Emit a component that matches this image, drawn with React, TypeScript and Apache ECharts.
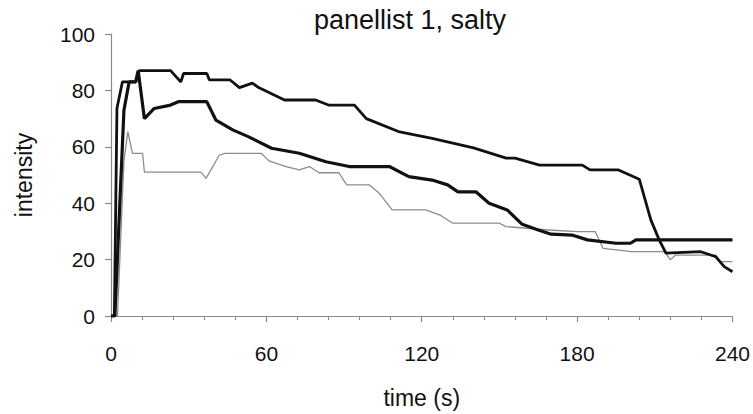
import React, { useEffect, useRef } from "react";
import * as echarts from "echarts";

const titleText = "panellist 1, salty";
const xName = "time (s)";
const yName = "intensity";

// Series A (upper thick line)
const tA = [0, 1.3, 2.3, 4.4, 9.6, 10.9, 23, 27, 28, 37, 38, 46, 49.6, 54.6, 57, 67, 79, 84, 94, 98.6, 111, 124, 140, 152.6, 156, 165.5, 170.6, 182, 185, 196, 204, 208.5, 211.7, 214.3, 227.8, 233.6, 236.8, 240];
const vA = [0, 0, 73.7, 83, 83, 87, 87, 83, 86, 86, 83.7, 83.7, 81, 82.6, 81, 76.6, 76.6, 74.8, 74.8, 70, 65.4, 63, 59.6, 56, 56, 53.5, 53.5, 53.5, 51.8, 51.8, 48.5, 34, 27, 22.3, 22.8, 21, 17.5, 15.7];

// Series B (middle thick line)
const tB = [0, 1.5, 5, 7, 9.5, 10.5, 12.9, 16.7, 23, 26, 37, 40.5, 47, 53, 62, 72.7, 83, 92, 107.5, 115, 124, 130, 134, 141, 146, 153, 158.8, 165, 170, 178, 184, 195, 200.6, 202.7, 240];
const vB = [0, 0, 73, 83, 83, 87, 70, 73.6, 74.8, 76, 76, 69.5, 66, 63.6, 59.5, 57.7, 54.7, 53, 53, 49.4, 48.2, 46.5, 44, 44, 40, 37.6, 32.5, 30.5, 29, 28.7, 27, 25.8, 25.8, 27, 27];

// Series C (thin grey line)
const tC = [0, 2.5, 5, 6.5, 8.3, 12.2, 12.9, 34.7, 36.7, 41.8, 44, 58, 61, 67.6, 72.7, 76.6, 80.4, 88, 91, 99.7, 103.6, 108.6, 121.6, 127, 132, 150, 152.5, 169, 180, 187, 190, 201, 213.8, 216, 218, 233.6, 235, 240];
const vC = [0, 0, 55, 65.4, 57.7, 57.7, 51, 51, 48.8, 57, 57.7, 57.7, 55, 53, 51.8, 53, 50.8, 50.8, 46.5, 46.5, 43.5, 37.6, 37.6, 35.8, 32.9, 32.9, 31.7, 30.5, 29.9, 29.9, 24, 22.8, 22.8, 19.9, 21.6, 21.6, 19.3, 19.3];

const pair = (t: number[], v: number[]) => t.map((x, i) => [x, v[i]]);

export default function App() {
  const ref = useRef<HTMLDivElement>(null);
  useEffect(() => {
    if (!ref.current) return;
    const chart = echarts.init(ref.current, null, { renderer: "svg" });
    const font = "Liberation Sans, Arial, sans-serif";
    const axisColor = "#8a8a8a";
    chart.setOption({
      animation: false,
      backgroundColor: "#ffffff",
      grid: { left: 111, right: 20, top: 34, bottom: 98 },
      graphic: [
        {
          type: "text",
          x: 410,
          y: 6,
          style: { text: titleText, fontSize: 27, fontFamily: font, fill: "#111", textAlign: "center" },
        },
      ],
      xAxis: {
        type: "value",
        min: 0,
        max: 240,
        interval: 60,
        name: xName,
        nameLocation: "middle",
        nameGap: 70,
        nameTextStyle: { fontSize: 23, fontFamily: font, color: "#111" },
        axisLine: { lineStyle: { color: axisColor, width: 1.2 } },
        axisTick: { show: true, length: 6, lineStyle: { color: axisColor, width: 1.2 } },
        minorTick: { show: true, splitNumber: 5, length: 4, lineStyle: { color: axisColor } },
        axisLabel: { fontSize: 21, fontFamily: font, color: "#111", margin: 27 },
        splitLine: { show: false },
      },
      yAxis: {
        type: "value",
        min: 0,
        max: 100,
        interval: 20,
        name: yName,
        nameLocation: "middle",
        nameGap: 76,
        nameRotate: 90,
        nameTextStyle: { fontSize: 23, fontFamily: font, color: "#111" },
        axisLine: { show: true, lineStyle: { color: axisColor, width: 1.2 } },
        axisTick: { show: true, length: 6, lineStyle: { color: axisColor, width: 1.2 } },
        axisLabel: { fontSize: 21, fontFamily: font, color: "#111", margin: 16 },
        splitLine: { show: false },
      },
      series: [
        {
          type: "line",
          data: pair(tC, vC),
          showSymbol: false,
          lineStyle: { color: "#8c8c8c", width: 1.3 },
          z: 1,
        },
        {
          type: "line",
          data: pair(tB, vB),
          showSymbol: false,
          lineStyle: { color: "#111", width: 3.2 },
          z: 2,
        },
        {
          type: "line",
          data: pair(tA, vA),
          showSymbol: false,
          lineStyle: { color: "#111", width: 2.8 },
          z: 3,
        },
      ],
    });
    return () => chart.dispose();
  }, []);
  return (
    <div
      ref={ref}
      style={{ position: "absolute", left: 0, top: 0, width: 753, height: 414 }}
    />
  );
}
